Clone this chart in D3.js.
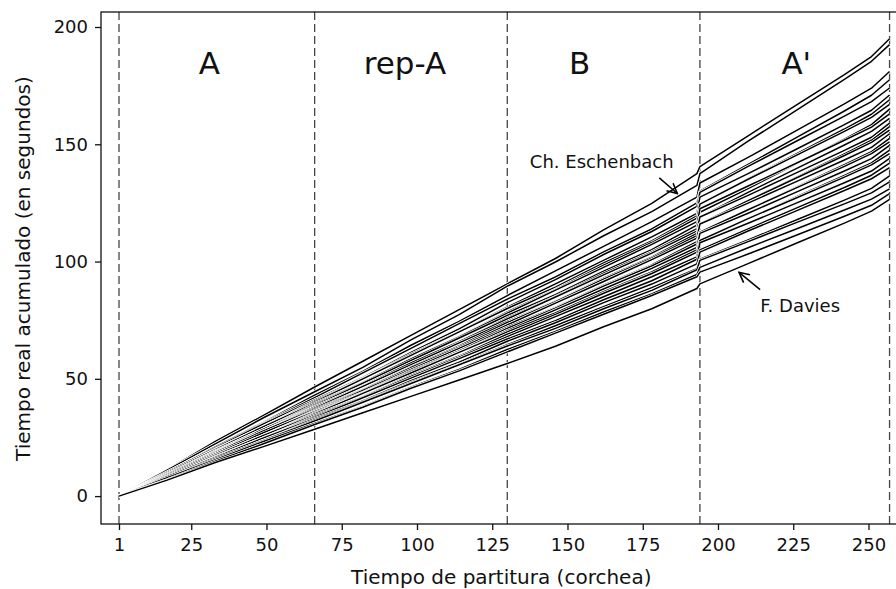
<!DOCTYPE html>
<html><head><meta charset="utf-8">
<script src="https://cdn.jsdelivr.net/npm/d3@7"></script>
<style>
body{margin:0;background:#fff}
svg{display:block}
text{font-family:"DejaVu Sans",Verdana,sans-serif;fill:#111}
</style>
</head><body>
<svg id="chart" width="896" height="589"></svg>
<script>
// ---- data ----
const scoreTimes = [1,17,33,49,66,82,98,114,130,146,162,178,193,194,210,226,242,251,257];
const performerIds = ["Ch. Eschenbach","P02","P03","P04","P05","P06","P07","P08","P09","P10","P11","P12","P13","P14",
  "P15","P16","P17","P18","P19","P20","P21","P22","P23","P24","P25","P26","P27","F. Davies"];
const cumulativeTimes = [
  [0,11.2,23.3,34.4,46.5,57.5,68.5,79.5,90.5,101.3,113.5,124.8,137.5,140.5,153.6,166.7,179.7,187.4,195.0],
  [0,11.1,22.3,33.4,44.5,54.9,66.6,77.4,89.5,99.8,111.0,121.3,132.5,137.5,151.3,164.5,177.7,185.4,192.5],
  [0,9.9,21.1,31.4,43.0,53.2,64.3,74.5,85.5,96.0,106.5,117.0,127.5,133.5,144.4,155.8,167.2,173.9,181.0],
  [0,10.1,21.0,31.1,42.0,52.5,63.0,73.5,84.0,93.4,104.1,113.9,125.0,130.0,141.4,152.8,164.2,170.9,177.5],
  [0,10.3,20.5,30.8,41.0,50.5,61.3,71.3,82.5,92.3,103.0,112.8,123.5,129.5,140.6,151.3,162.0,168.2,174.0],
  [0,9.3,19.8,29.6,40.5,50.1,60.5,70.1,80.5,90.5,100.5,110.5,120.5,127.5,137.5,147.9,158.4,164.5,171.0],
  [0,9.6,20.0,29.6,40.0,50.0,60.0,70.0,80.0,89.1,99.4,108.8,119.5,124.5,135.2,145.9,156.5,162.8,169.0],
  [0,9.9,19.8,29.6,39.5,48.5,58.6,68.0,78.5,88.1,98.5,108.1,118.5,124.5,135.1,145.3,155.5,161.5,167.0],
  [0,9.0,19.1,28.5,39.0,48.4,58.5,67.9,78.0,87.8,97.5,107.3,117.0,121.0,131.1,141.7,152.2,158.4,165.0],
  [0,9.2,19.3,28.5,38.5,48.1,57.8,67.4,77.0,85.9,95.9,105.1,115.5,122.5,132.2,141.9,151.7,157.3,163.0],
  [0,9.5,19.0,28.5,38.0,46.7,56.6,65.7,76.0,85.1,95.0,104.1,114.0,119.0,129.5,139.6,149.7,155.5,161.0],
  [0,8.7,18.6,27.7,38.0,47.0,56.8,65.8,75.5,84.9,94.3,103.6,113.0,119.0,128.2,137.8,147.4,153.0,159.0],
  [0,9.0,18.8,27.8,37.5,46.8,56.0,65.3,74.5,83.1,92.9,101.9,112.0,116.0,126.0,135.9,145.9,151.7,157.5],
  [0,9.3,18.5,27.8,37.0,45.5,55.1,64.0,74.0,82.9,92.5,101.4,111.0,116.0,126.0,135.6,145.2,150.8,156.0],
  [0,8.4,17.9,26.6,36.5,45.3,54.8,63.5,73.0,82.3,91.5,100.8,110.0,116.0,124.9,134.1,143.3,148.7,154.5],
  [0,8.6,18.0,26.6,36.0,45.0,54.0,63.0,72.0,80.4,89.9,98.6,108.5,112.5,122.1,131.7,141.3,146.9,152.5],
  [0,9.0,18.0,27.0,36.0,44.2,53.4,61.9,71.5,80.1,89.5,98.1,107.5,112.5,122.1,131.4,140.6,146.0,151.0],
  [0,8.2,17.4,25.9,35.5,43.9,53.0,61.4,70.5,79.4,88.3,97.1,106.0,112.0,120.6,129.6,138.6,143.9,149.5],
  [0,8.4,17.5,25.9,35.0,43.8,52.5,61.3,70.0,78.1,87.2,95.6,105.0,109.0,118.2,127.5,136.7,142.1,147.5],
  [0,8.6,17.3,25.9,34.5,42.4,51.4,59.7,69.0,77.4,86.5,94.9,104.0,109.0,118.3,127.1,136.0,141.2,146.0],
  [0,7.8,16.7,24.8,34.0,42.2,51.0,59.2,68.0,76.5,85.0,93.5,102.0,108.0,116.3,124.9,133.6,138.6,144.0],
  [0,8.0,16.8,24.8,33.5,41.9,50.3,58.6,67.0,74.8,83.7,91.8,101.0,105.0,113.9,122.8,131.6,136.8,142.0],
  [0,8.3,16.5,24.8,33.0,40.6,49.2,57.1,66.0,73.9,82.5,90.4,99.0,104.0,113.0,121.6,130.3,135.3,140.0],
  [0,7.5,15.9,23.7,32.5,40.2,48.5,56.2,64.5,72.6,80.8,88.9,97.0,101.0,109.2,117.7,126.2,131.2,136.5],
  [0,7.7,16.0,23.7,32.0,40.0,48.0,56.0,64.0,71.5,79.9,87.7,96.5,100.5,108.5,116.6,124.6,129.3,134.0],
  [0,7.8,15.5,23.3,31.0,38.2,46.4,54.0,62.5,70.2,78.5,86.2,94.5,97.5,105.9,113.9,122.0,126.6,131.0],
  [0,7.0,14.9,22.3,30.5,37.9,46.0,53.4,61.5,69.5,77.5,85.5,93.5,95.5,103.2,111.2,119.3,124.0,129.0],
  [0,6.8,14.3,21.1,28.5,35.5,42.5,49.5,56.5,63.9,72.2,79.9,88.5,90.5,99.1,107.8,116.4,121.5,126.5]
];
const xTicks = [1,25,50,75,100,125,150,175,200,225,250];
const yTicks = [0,50,100,150,200];
const sectionBounds = [1,66,130,194,257];
const sectionLabels = ["A","rep-A","B","A'"];
const sectionLabelX = [31,96,154,226];
const sectionLabelValue = 180;
const annotations = [
  {text:"Ch. Eschenbach", tx:137.5, ty:140, fromX:180.5, fromY:135.7, toX:186.5, toY:129.0},
  {text:"F. Davies", tx:214, ty:78.3, fromX:214, fromY:88.0, toX:207, toY:95.4}
];
const xTitle = "Tiempo de partitura (corchea)";
const yTitle = "Tiempo real acumulado (en segundos)";

// ---- layout ----
const svg = d3.select("#chart");
const L = 101, T = 12, R = 909, B = 524;
const x = d3.scaleLinear().domain([-4.98, 263.46]).range([L, R]);
const y = d3.scaleLinear().domain([-11.9, 206.4]).range([B, T]);

svg.append("rect").attr("width",896).attr("height",589).attr("fill","#fff");
const defs = svg.append("defs");
defs.append("clipPath").attr("id","plotclip")
  .append("rect").attr("x",L).attr("y",T).attr("width",R-L).attr("height",B-T);

// dashed section boundaries
svg.append("g").selectAll("line").data(sectionBounds).join("line")
  .attr("x1",d=>x(d)).attr("x2",d=>x(d)).attr("y1",T).attr("y2",B)
  .attr("stroke","#444").attr("stroke-width",1.3).attr("stroke-dasharray","8,4");

// performance lines
const line = d3.line().x((d,i)=>x(scoreTimes[i])).y(d=>y(d));
const gLines = svg.append("g").attr("clip-path","url(#plotclip)");
cumulativeTimes.forEach((series,k)=>{
  gLines.append("path").attr("d",line(series)).attr("fill","none")
    .attr("stroke","#fff").attr("stroke-width",3).attr("stroke-linejoin","round");
  gLines.append("path").attr("d",line(series)).attr("fill","none")
    .attr("stroke","#000").attr("stroke-width",1.5).attr("stroke-linejoin","round")
    .attr("data-name",performerIds[k]);
});

// frame
svg.append("rect").attr("x",L).attr("y",T).attr("width",R-L).attr("height",B-T)
  .attr("fill","none").attr("stroke","#111").attr("stroke-width",1.3);

// axes
const yAxis = svg.append("g").attr("transform",`translate(${L},0)`)
  .call(d3.axisLeft(y).tickValues(yTicks).tickSize(6).tickPadding(7).tickFormat(d3.format("d")));
const xAxis = svg.append("g").attr("transform",`translate(0,${B})`)
  .call(d3.axisBottom(x).tickValues(xTicks).tickSize(6).tickPadding(8).tickFormat(d3.format("d")));
[xAxis,yAxis].forEach(g=>{
  g.select(".domain").remove();
  g.selectAll(".tick line").attr("stroke","#111").attr("stroke-width",1.3);
  g.selectAll(".tick text").attr("font-size",18).attr("fill","#111")
    .style("font-family",'"DejaVu Sans",Verdana,sans-serif');
});

// section labels
svg.append("g").selectAll("text").data(sectionLabels).join("text")
  .attr("x",(d,i)=>x(sectionLabelX[i])).attr("y",y(sectionLabelValue))
  .attr("text-anchor","middle").attr("font-size",31).text(d=>d);

// annotations
defs.append("marker").attr("id","arrow").attr("viewBox","0 0 12 12")
  .attr("refX",11).attr("refY",6).attr("markerWidth",12).attr("markerHeight",12)
  .attr("markerUnits","userSpaceOnUse").attr("orient","auto")
  .append("path").attr("d","M1,1 L11,6 L1,11").attr("fill","none")
  .attr("stroke","#000").attr("stroke-width",1.6);
annotations.forEach(a=>{
  svg.append("text").attr("x",x(a.tx)).attr("y",y(a.ty)).attr("font-size",18).text(a.text);
  svg.append("line").attr("x1",x(a.fromX)).attr("y1",y(a.fromY))
    .attr("x2",x(a.toX)).attr("y2",y(a.toY))
    .attr("stroke","#000").attr("stroke-width",1.5).attr("marker-end","url(#arrow)");
});

// axis titles
svg.append("text").attr("x",x(128)).attr("y",584).attr("text-anchor","middle")
  .attr("font-size",20).text(xTitle);
svg.append("text").attr("transform",`translate(30,${y(97)}) rotate(-90)`)
  .attr("text-anchor","middle").attr("font-size",20).text(yTitle);
</script>
</body></html>
